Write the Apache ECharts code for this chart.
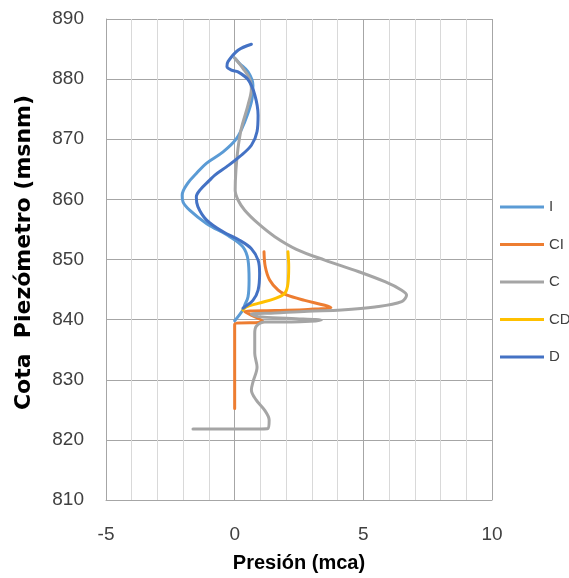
<!DOCTYPE html>
<html>
<head>
<meta charset="utf-8">
<script src="https://cdn.jsdelivr.net/npm/echarts@6/dist/echarts.min.js"></script>
<style>
  html, body { margin: 0; padding: 0; background: #fff; overflow: hidden; }
  #chart { width: 569px; height: 578px; }
</style>
</head>
<body>
<div id="chart"></div>
<script>
// Pressure (mca) vs piezometric elevation (msnm) for each piezometer line
const seriesNames = ['I', 'CI', 'C', 'CD', 'D'];

const iPressure  = [0, 0.19, 0.52, 0.71, 0.65, 0.39, 0.07, -0.45, -1.1, -1.49, -1.82, -2.04, -2.01, -1.75, -1.1, -0.19, 0.32, 0.52, 0.56, 0.52, 0.39, 0.32, 0];
const iElevation = [883.5, 882.6, 881.2, 879, 876.2, 872.9, 870.1, 867.9, 866, 864.3, 862.7, 860.7, 859.6, 858.2, 856, 853.8, 852.1, 849.9, 846.6, 843.8, 842.4, 841.6, 839.8];

const ciPressure  = [1.14, 1.19, 1.36, 1.69, 2.01, 2.72, 3.5, 3.74, 2.85, 1.56, 0.39, 1.1, 0, 0];
const ciElevation = [851.3, 848.8, 846.6, 844.9, 844.1, 843.2, 842.4, 842, 841.7, 841.5, 841.3, 839.7, 839.2, 825.2];

const cPressure  = [0, 0.32, 0.58, 0.65, 0.52, 0.26, 0.13, 0.05, 0.02, 0.13, 0.39, 0.91, 1.56, 2.4, 3.5, 4.8, 5.84, 6.49, 6.68, 6.49, 5.45, 4.15, 2.85, 1.56, 0.65, 0.91, 2.2, 3.37, 2.2, 1.17, 0.84, 0.78, 0.78, 0.87, 0.71, 0.65, 0.84, 1.17, 1.34, 1.3, 0.45, -0.58, -1.62];
const cElevation = [883.5, 881.8, 880.1, 878.5, 875.7, 871.8, 868.5, 864.9, 861.5, 859.9, 858.2, 856, 853.8, 851.7, 849.9, 848, 846.3, 844.9, 844.1, 843, 842.1, 841.6, 841.4, 841.1, 840.9, 840.5, 840.2, 839.9, 839.6, 839.6, 838.9, 837.7, 834.4, 832.1, 829.6, 828.3, 826.6, 824.9, 823.3, 821.9, 821.8, 821.8, 821.8];

const cdPressure  = [2.07, 2.1, 2.07, 1.95, 1.56, 0.91, 0.45, 0.32];
const cdElevation = [851.3, 848.8, 846, 844.4, 843.5, 842.7, 842.1, 841.6];

const dPressure  = [0.65, 0.13, -0.26, -0.3, -0.13, 0.13, 0.52, 0.78, 0.91, 0.87, 0.65, 0.19, -0.32, -0.78, -0.97, -1.36, -1.49, -1.43, -1.1, -0.45, 0.19, 0.65, 0.91, 0.97, 0.91, 0.71, 0.39, 0.32];
const dElevation = [885.8, 884.8, 882.9, 882.1, 881.5, 881.2, 879.9, 877.4, 874, 871.3, 869, 867.1, 865.4, 864, 863.2, 861.5, 860.4, 858.8, 856.6, 854.6, 853.2, 851.8, 849.9, 847.7, 844.9, 843.2, 842.1, 841.9];

const seriesColors = ['#5B9BD5', '#ED7D31', '#A5A5A5', '#FFC000', '#4472C4'];

const xTicks = { min: -5, max: 10, step: 5 };
const yTicks = { min: 810, max: 890, step: 10 };

const pairs = (xs, ys) => xs.map((x, i) => [x, ys[i]]);
const seriesData = [
  pairs(iPressure, iElevation),
  pairs(ciPressure, ciElevation),
  pairs(cPressure, cElevation),
  pairs(cdPressure, cdElevation),
  pairs(dPressure, dElevation)
];

const font = 'Liberation Sans, Arial, sans-serif';
const chart = echarts.init(document.getElementById('chart'), null, { renderer: 'canvas', width: 569, height: 578 });

chart.setOption({
  animation: false,
  backgroundColor: '#ffffff',
  grid: { left: 106, top: 19, width: 386, height: 481, containLabel: false },
  legend: {
    orient: 'vertical',
    left: 500,
    top: 197,
    padding: 0,
    itemWidth: 44,
    itemHeight: 3,
    itemGap: 17.5,
    icon: 'rect',
    data: seriesNames,
    textStyle: { fontFamily: font, fontSize: 15, color: '#404040', lineHeight: 20 }
  },
  xAxis: {
    type: 'value',
    min: xTicks.min,
    max: xTicks.max,
    interval: xTicks.step,
    name: 'Presión (mca)',
    nameLocation: 'middle',
    nameGap: 53,
    nameTextStyle: { fontFamily: font, fontSize: 20, fontWeight: 'bold', color: '#000' },
    axisLine: { show: true, lineStyle: { color: '#A6A6A6', width: 1 } },
    axisTick: { show: false },
    axisLabel: { margin: 25, fontFamily: font, fontSize: 19, color: '#404040' },
    splitLine: { show: true, lineStyle: { color: '#A6A6A6', width: 1 } },
    minorTick: { show: false, splitNumber: 5 },
    minorSplitLine: { show: true, lineStyle: { color: '#D9D9D9', width: 1 } }
  },
  yAxis: {
    type: 'value',
    min: yTicks.min,
    max: yTicks.max,
    interval: yTicks.step,
    name: 'Cota  Piezómetro (msnm)',
    nameLocation: 'middle',
    nameGap: 71,
    nameTextStyle: { fontFamily: 'DejaVu Sans, sans-serif', fontSize: 22, fontWeight: 'bold', color: '#000', padding: [0, 0, 0, 14] },
    axisLine: { show: true, onZero: false, lineStyle: { color: '#A6A6A6', width: 1 } },
    axisTick: { show: false },
    axisLabel: { margin: 22, fontFamily: font, fontSize: 19, color: '#404040' },
    splitLine: { show: true, lineStyle: { color: '#A6A6A6', width: 1 } }
  },
  series: seriesNames.map((name, k) => ({
    name,
    type: 'line',
    data: seriesData[k],
    smooth: 0.35,
    symbol: 'none',
    color: seriesColors[k],
    lineStyle: { color: seriesColors[k], width: 3, cap: 'round', join: 'round' }
  }))
});
</script>
</body>
</html>
